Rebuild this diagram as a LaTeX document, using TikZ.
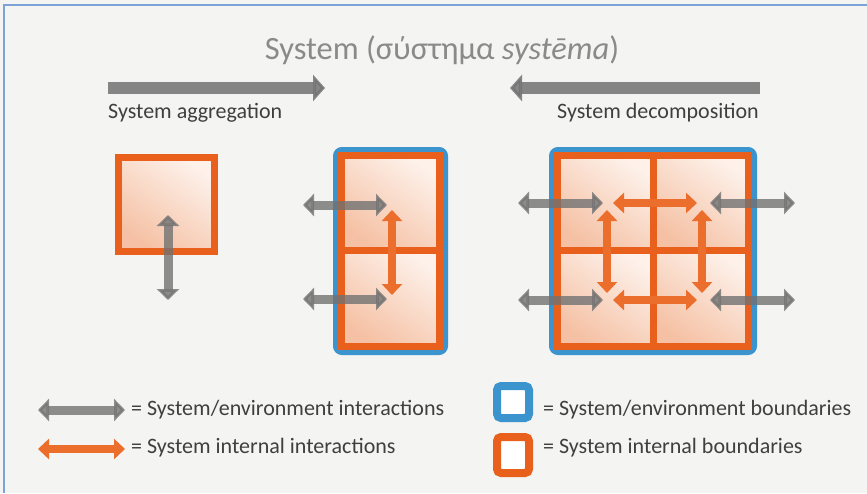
\documentclass[tikz,border=0pt]{standalone}
\usepackage{fontspec}
\setmainfont{Carlito}
\usetikzlibrary{arrows.meta}

\definecolor{bgGray}{HTML}{F4F4F2}
\definecolor{frameBlue}{HTML}{7BA3D8}
\definecolor{envBlue}{HTML}{3C94CE}
\definecolor{intOrange}{HTML}{E8601C}
\definecolor{cellLight}{HTML}{FDF1EA}
\definecolor{cellDark}{HTML}{F5C0A3}
\definecolor{arrowGray}{HTML}{727272}
\definecolor{arrowOrange}{HTML}{EC6E2C}
\definecolor{titleGray}{HTML}{8A8A8A}
\definecolor{textGray}{HTML}{3F3F3F}

\begin{document}
\begin{tikzpicture}[x=1pt,y=-1pt]
    \tikzstyle{envbound}=[draw=envBlue,line width=6pt,rounded corners=6pt]
    \tikzstyle{cell}=[draw=intOrange,line width=7pt,top color=cellLight,bottom color=cellDark,shading angle=-35]
    \tikzstyle{envarrow}=[draw=arrowGray,opacity=.8,line width=9pt,{Triangle[width=22pt,length=11pt]}-{Triangle[width=22pt,length=11pt]}]
    \tikzstyle{intarrow}=[draw=arrowOrange,line width=8pt,{Triangle[width=20pt,length=11pt]}-{Triangle[width=20pt,length=11pt]}]
    \tikzstyle{bigarrow}=[draw=arrowGray,opacity=.85,line width=12pt,-{Triangle[width=26pt,length=12pt]}]
    \tikzstyle{label}=[text=textGray,font=\fontsize{22}{26}\selectfont,inner sep=0pt]

    % page and frame
    \useasboundingbox (0,0) rectangle (867,493);
    \fill[bgGray] (0,0) rectangle (867,493);
    \draw[frameBlue,line width=2pt] (4,493) -- (4,5) -- (867,5);

    % title and directions
    \node[text=titleGray,font=\fontsize{32.5}{38}\selectfont,inner sep=0pt] at (442,50) (title) {System (σύστημα \textit{systēma})};
    \coordinate (aggS) at (108,88);
    \coordinate (aggE) at (325,88);
    \coordinate (decS) at (760,88);
    \coordinate (decE) at (510,88);
    \draw[bigarrow] (aggS) -- (aggE);
    \draw[bigarrow] (decS) -- (decE);
    \node[label,anchor=west] at (108,113) (aggLabel) {System aggregation};
    \node[label,anchor=west] at (557,113) (decLabel) {System decomposition};

    % single system
    \draw[cell] (118.5,157.5) rectangle (214.5,251.5);
    \coordinate (s1) at (168,215);
    \coordinate (s2) at (168,300);
    \draw[envarrow] (s1) -- (s2);

    % two part system
    \draw[envbound] (336,150) rectangle (445,352);
    \draw[cell] (341.5,155.5) rectangle (439.5,250);
    \draw[cell] (341.5,250) rectangle (439.5,346.5);
    \coordinate (mA) at (303,205);
    \coordinate (mB) at (387,205);
    \coordinate (mC) at (303,299);
    \coordinate (mD) at (387,299);
    \coordinate (mU) at (392,210);
    \coordinate (mL) at (392,295);
    \draw[envarrow] (mA) -- (mB);
    \draw[envarrow] (mC) -- (mD);
    \draw[intarrow] (mU) -- (mL);

    % four part system
    \draw[envbound] (552,150) rectangle (754,352);
    \draw[cell] (557.5,155.5) rectangle (653,250);
    \draw[cell] (653,155.5) rectangle (748.5,250);
    \draw[cell] (557.5,250) rectangle (653,346.5);
    \draw[cell] (653,250) rectangle (748.5,346.5);
    \foreach \y/\n in {203/t,300/b}{
        \coordinate (l\n1) at (518,\y);
        \coordinate (l\n2) at (603,\y);
        \coordinate (r\n1) at (710,\y);
        \coordinate (r\n2) at (795,\y);
        \coordinate (h\n1) at (613,\y);
        \coordinate (h\n2) at (697,\y);
        \draw[envarrow] (l\n1) -- (l\n2);
        \draw[envarrow] (r\n1) -- (r\n2);
        \draw[intarrow] (h\n1) -- (h\n2);
    }
    \foreach \x/\n in {607/l,702/r}{
        \coordinate (v\n1) at (\x,210);
        \coordinate (v\n2) at (\x,293);
        \draw[intarrow] (v\n1) -- (v\n2);
    }

    % legend
    \coordinate (kA) at (38,410);
    \coordinate (kB) at (125,410);
    \coordinate (kC) at (38,449);
    \coordinate (kD) at (125,449);
    \draw[envarrow] (kA) -- (kB);
    \draw[intarrow] (kC) -- (kD);
    \node[label,anchor=west] at (131,410) (envKey) {= System/environment interactions};
    \node[label,anchor=west] at (131,448) (intKey) {= System internal interactions};
    \draw[draw=envBlue,fill=white,line width=8pt,rounded corners=4pt] (497,386) rectangle (529,418);
    \draw[draw=intOrange,fill=white,line width=8pt,rounded corners=4pt] (497,437) rectangle (529,473);
    \node[label,anchor=west] at (543,410) (envBoundKey) {= System/environment boundaries};
    \node[label,anchor=west] at (543,448) (intBoundKey) {= System internal boundaries};
\end{tikzpicture}
\end{document}
